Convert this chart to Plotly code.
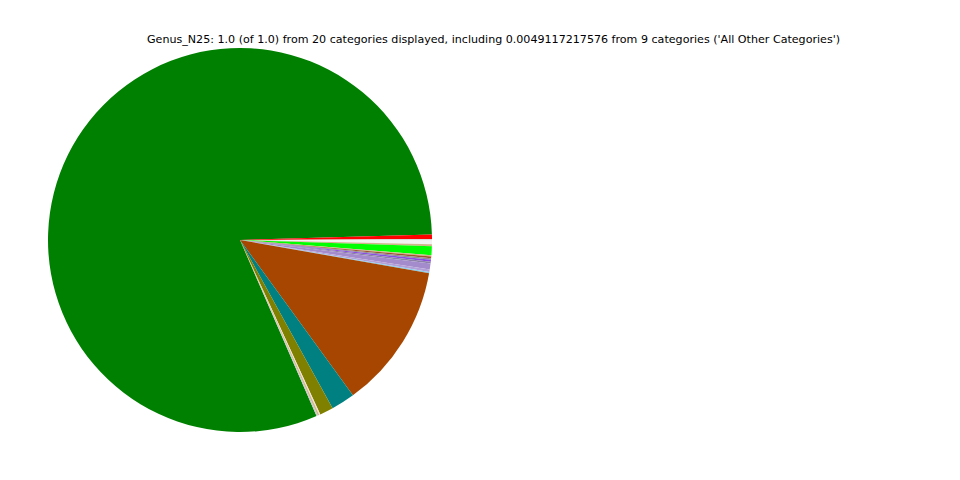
import plotly.graph_objects as go

# Slices in clockwise drawing order, starting with the big slice at its lower edge
categories = [
    "Genus A", "Genus S", "Genus T", "Genus R", "Genus Q", "Genus N", "Genus M",
    "Genus L", "Genus K", "Genus J", "Genus I", "All Other Categories", "Genus V",
    "Genus H", "Genus G", "Genus F", "Genus E", "Genus D", "Genus C", "Genus B",
]
values = [
    0.8107, 0.0037, 0.00125, 0.0031, 0.0017, 0.0074, 0.0011,
    0.0014, 0.00125, 0.0017, 0.0016, 0.0049, 0.0021,
    0.0011, 0.1222, 0.0200, 0.0114, 0.0010, 0.0014, 0.0010,
]
colors = [
    "#008000", "#ff0000", "#d8d8d8", "#f2f2f2", "#d2b48c", "#00ff00", "#d2b48c",
    "#a0522d", "#909090", "#8a4fe0", "#8c82a8", "#a48ccc", "#b4a0d8",
    "#87ceeb", "#a64600", "#008080", "#808000", "#f0e6d2", "#d2b48c", "#c8c8c8",
]
title_text = ("Genus_N25: 1.0 (of 1.0) from 20 categories displayed, including "
              "0.0049117217576 from 9 categories ('All Other Categories')")

fig = go.Figure(go.Pie(
    labels=categories,
    values=values,
    sort=False,
    direction="clockwise",
    rotation=156.5,
    marker=dict(colors=colors, line=dict(width=0)),
    textinfo="none",
    hoverinfo="label+percent",
    domain=dict(x=[40 / 960, 424 / 960], y=[1 - 424 / 480, 1 - 40 / 480]),
    showlegend=False,
))

fig.update_layout(
    width=960, height=480,
    margin=dict(l=0, r=0, t=0, b=0),
    paper_bgcolor="white",
    plot_bgcolor="white",
    font=dict(family="DejaVu Sans", color="black"),
    annotations=[dict(
        text=title_text, x=485 / 960, y=1 - 31.5 / 480,
        xref="paper", yref="paper", xanchor="center", yanchor="middle",
        showarrow=False, font=dict(size=11.1, family="DejaVu Sans", color="black"),
    )],
)

fig.write_html("out.html")
